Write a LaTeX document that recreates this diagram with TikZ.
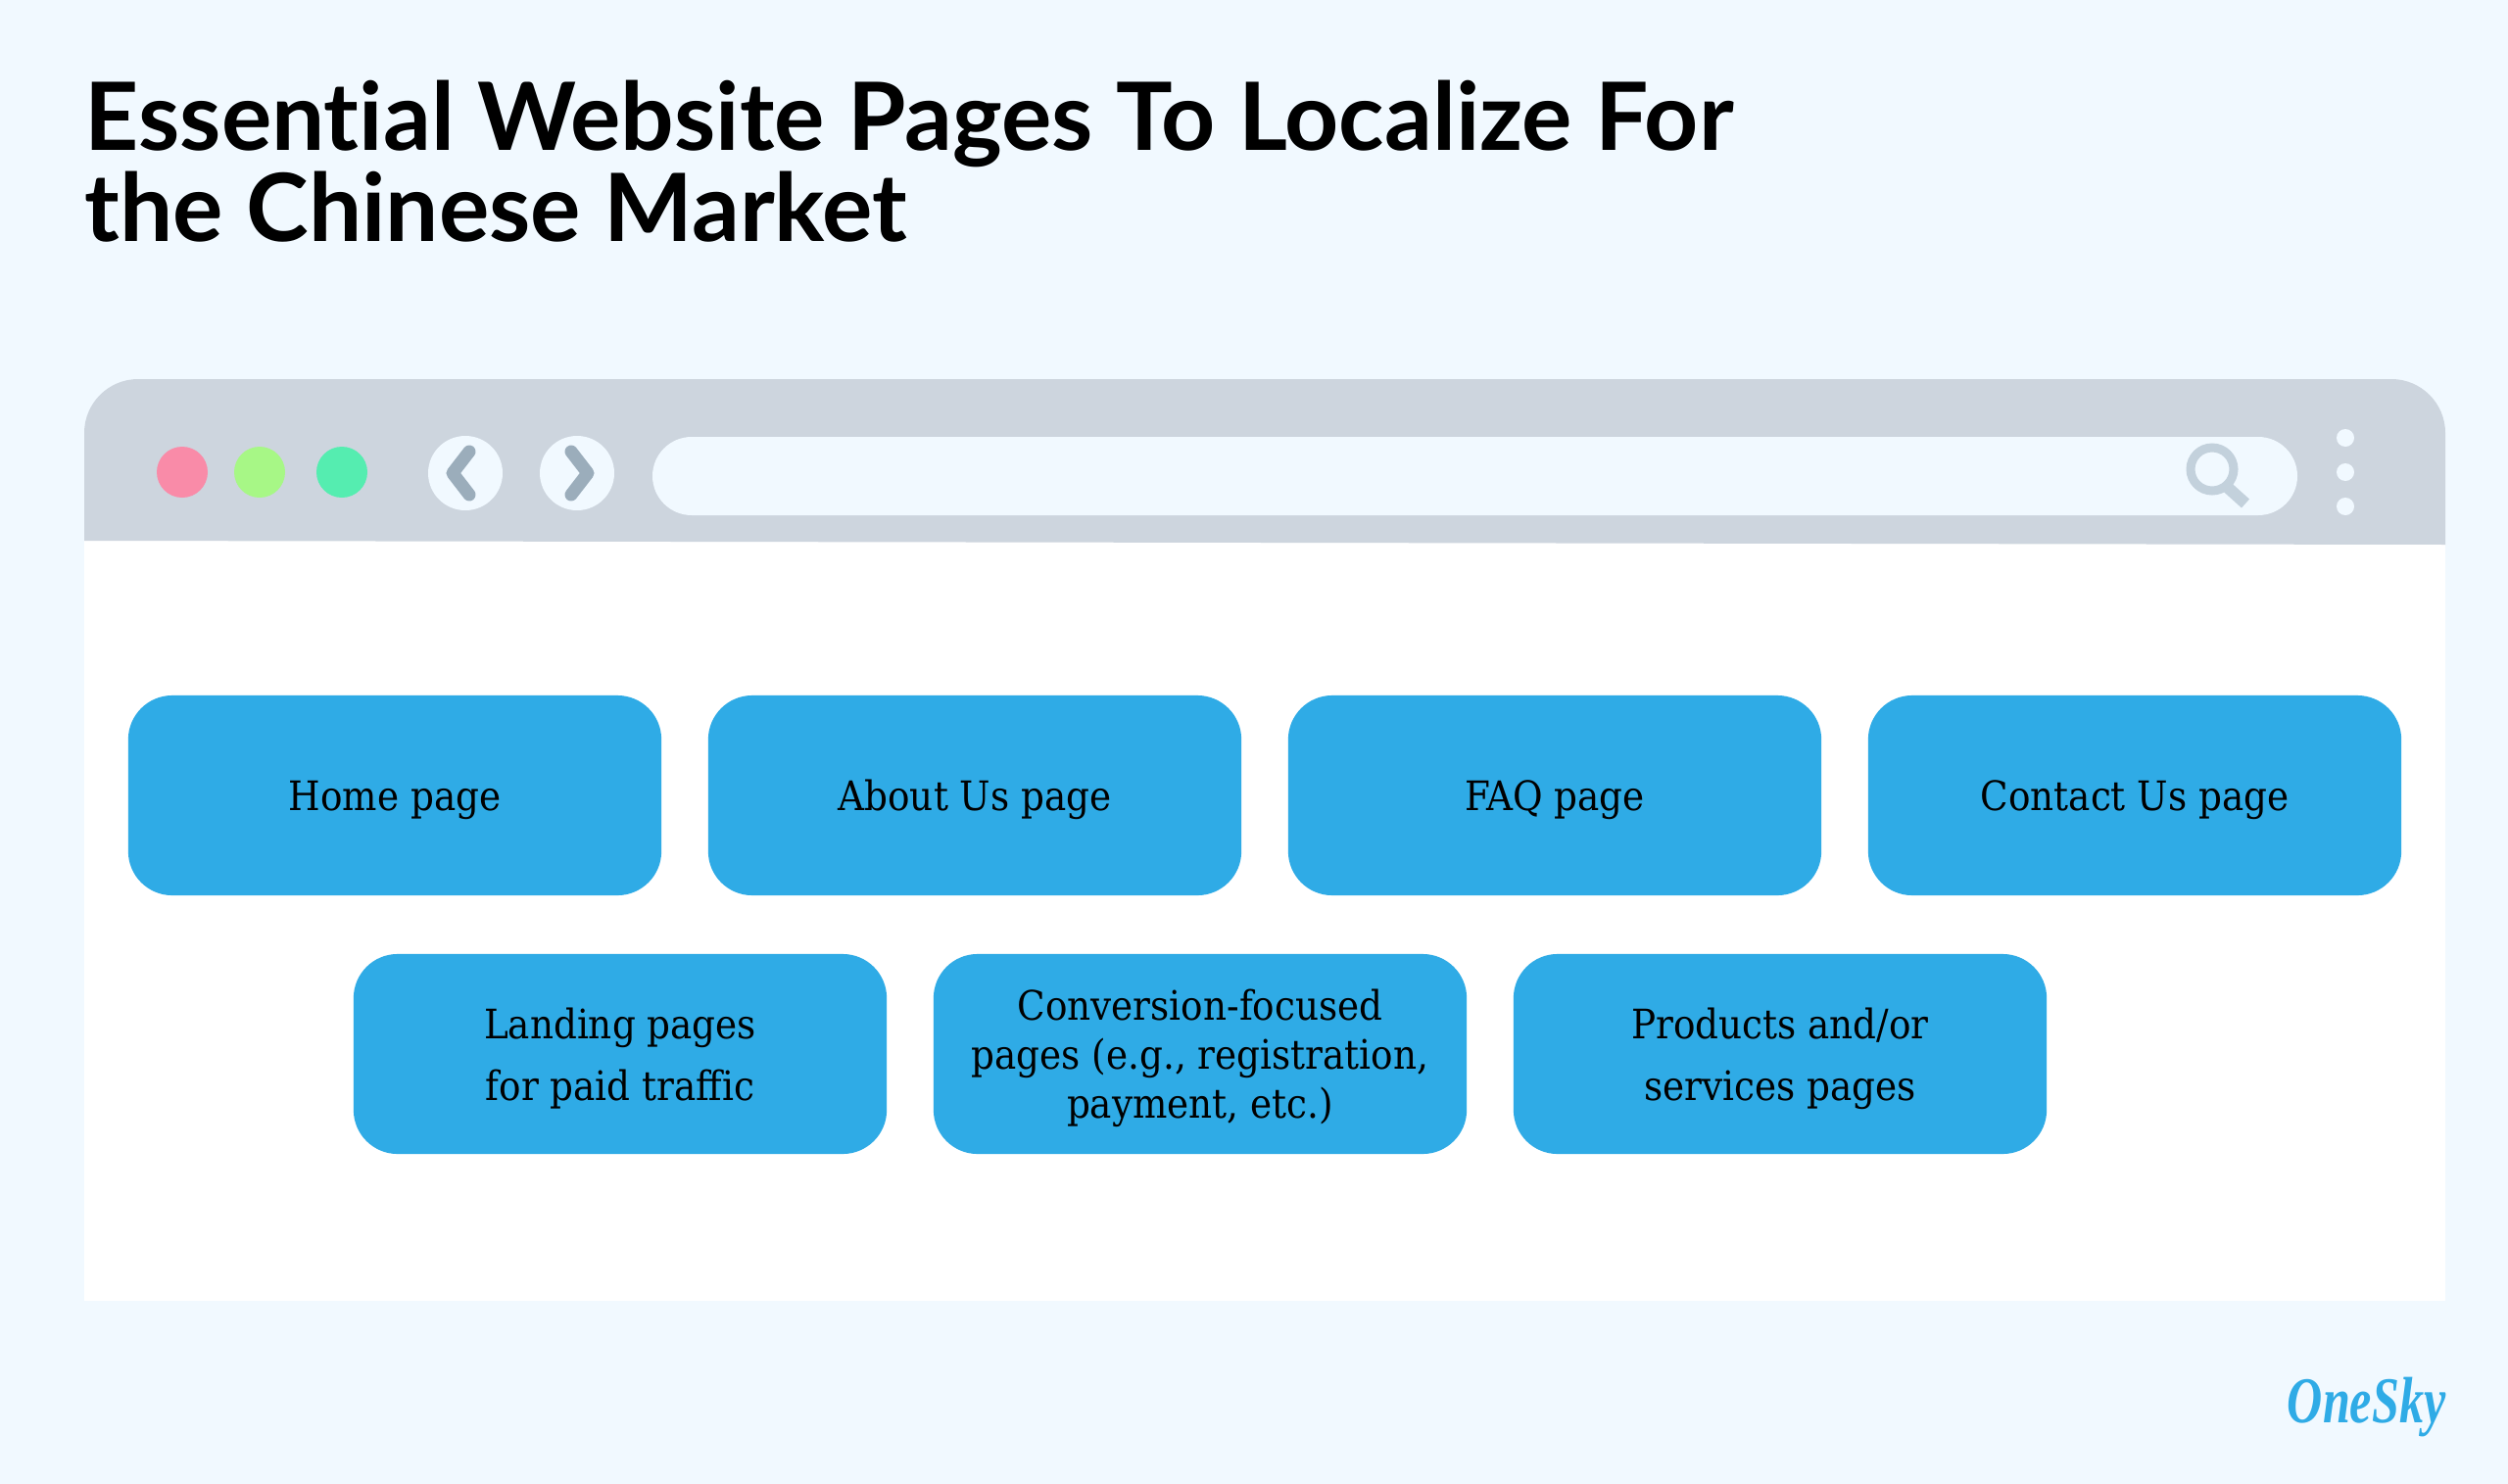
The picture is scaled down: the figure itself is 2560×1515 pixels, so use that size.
\documentclass[tikz,border=0pt]{standalone}
\usepackage{fontspec}
\setmainfont{DejaVu Serif Condensed}
\newfontfamily\titlefont[Ligatures=NoCommon]{Lato}
\newfontfamily\logofont[FakeStretch=0.75]{Liberation Serif}
\definecolor{pagebg}{HTML}{F1F9FF}
\definecolor{chrome}{HTML}{CDD5DE}
\definecolor{boxblue}{HTML}{2FABE6}
\definecolor{arrowgray}{HTML}{9BADBB}
\definecolor{lensgray}{HTML}{C3D1DC}
\definecolor{dotred}{HTML}{F98BA8}
\definecolor{dotlime}{HTML}{A7F786}
\definecolor{dotteal}{HTML}{55EDB0}
\tikzset{
  pagebox/.style={fill=boxblue, rounded corners=0.45cm, minimum width=5.44cm, minimum height=2.04cm,
    inner sep=0pt, align=center, text=black, text depth=-0.9pt, font=\fontsize{11.8pt}{17.9pt}\selectfont},
  tightbox/.style={pagebox, font=\fontsize{11.8pt}{14.2pt}\selectfont},
  chevron/.style={draw=arrowgray, line width=0.13cm, line cap=round, line join=round}
}
\begin{document}
\begin{tikzpicture}[x=0.01cm,y=-0.01cm]
    \useasboundingbox (0,0) rectangle (2560,1515);
    \fill[pagebg] (0,0) rectangle (2560,1515);

    \node[anchor=base west, inner sep=0pt, align=left, font=\titlefont\bfseries\fontsize{27.35pt}{26.2pt}\selectfont] (title) at (86,246)
      {Essential Website Pages To Localize For\\the Chinese Market};

    \fill[white] (86,540) rectangle (2496,1328);
    \fill[chrome] (86,552) [rounded corners=0.55cm] -- (86,387) -- (2496,387) [sharp corners] -- (2496,556) -- cycle;

    \fill[dotred] (186,482) circle[radius=26];
    \fill[dotlime] (265,482) circle[radius=26];
    \fill[dotteal] (349,482) circle[radius=26];

    \fill[pagebg] (475,483) circle[radius=38];
    \fill[pagebg] (589,483) circle[radius=38];
    \draw[chevron] (479,461) -- (462,483) -- (479,505);
    \draw[chevron] (583,461) -- (600,483) -- (583,505);

    \fill[pagebg, rounded corners=0.4cm] (666,446) rectangle (2345,526);
    \draw[lensgray, line width=0.09cm] (2258,479) circle[radius=22];
    \draw[lensgray, line width=0.12cm] (2272,496) -- (2292,514);

    \fill[pagebg] (2394,447) circle[radius=9];
    \fill[pagebg] (2394,482) circle[radius=9];
    \fill[pagebg] (2394,517) circle[radius=9];

    \node[pagebox] (home) at (403,812) {Home page};
    \node[pagebox] (about) at (995,812) {About Us page};
    \node[pagebox] (faq) at (1587,812) {FAQ page};
    \node[pagebox] (contact) at (2179,812) {Contact Us page};

    \node[pagebox] (landing) at (633,1076) {Landing pages\\for paid traffic};
    \node[tightbox] (conversion) at (1225,1076) {Conversion-focused\\pages (e.g., registration,\\payment, etc.)};
    \node[pagebox] (products) at (1817,1076) {Products and/or\\services pages};

    \node[anchor=base east, inner sep=0pt, text=boxblue, font=\logofont\bfseries\itshape\fontsize{19pt}{19pt}\selectfont] (logo) at (2497,1452) {OneSky};
\end{tikzpicture}
\end{document}
